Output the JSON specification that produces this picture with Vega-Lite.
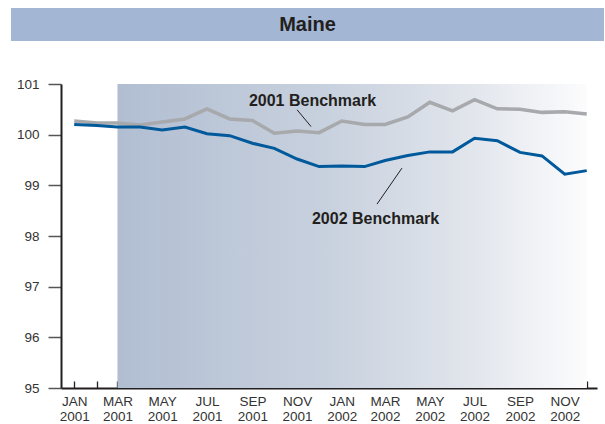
{
  "$schema": "https://vega.github.io/schema/vega-lite/v6.json",
  "padding": {"left": 11, "top": 8, "right": 1, "bottom": 0},
  "spacing": 36,
  "config": {"view": {"stroke": null}, "font": "Liberation Sans"},
  "datasets": {
    "series": [
      {"date": "2001-01-01", "series": "2001 Benchmark", "value": 100.27},
      {"date": "2001-02-01", "series": "2001 Benchmark", "value": 100.23},
      {"date": "2001-03-01", "series": "2001 Benchmark", "value": 100.23},
      {"date": "2001-04-01", "series": "2001 Benchmark", "value": 100.19},
      {"date": "2001-05-01", "series": "2001 Benchmark", "value": 100.25},
      {"date": "2001-06-01", "series": "2001 Benchmark", "value": 100.31},
      {"date": "2001-07-01", "series": "2001 Benchmark", "value": 100.51},
      {"date": "2001-08-01", "series": "2001 Benchmark", "value": 100.31},
      {"date": "2001-09-01", "series": "2001 Benchmark", "value": 100.28},
      {"date": "2001-10-01", "series": "2001 Benchmark", "value": 100.03},
      {"date": "2001-11-01", "series": "2001 Benchmark", "value": 100.07},
      {"date": "2001-12-01", "series": "2001 Benchmark", "value": 100.04},
      {"date": "2002-01-01", "series": "2001 Benchmark", "value": 100.27},
      {"date": "2002-02-01", "series": "2001 Benchmark", "value": 100.20},
      {"date": "2002-03-01", "series": "2001 Benchmark", "value": 100.20},
      {"date": "2002-04-01", "series": "2001 Benchmark", "value": 100.35},
      {"date": "2002-05-01", "series": "2001 Benchmark", "value": 100.64},
      {"date": "2002-06-01", "series": "2001 Benchmark", "value": 100.47},
      {"date": "2002-07-01", "series": "2001 Benchmark", "value": 100.69},
      {"date": "2002-08-01", "series": "2001 Benchmark", "value": 100.51},
      {"date": "2002-09-01", "series": "2001 Benchmark", "value": 100.50},
      {"date": "2002-10-01", "series": "2001 Benchmark", "value": 100.44},
      {"date": "2002-11-01", "series": "2001 Benchmark", "value": 100.45},
      {"date": "2002-12-01", "series": "2001 Benchmark", "value": 100.41},
      {"date": "2001-01-01", "series": "2002 Benchmark", "value": 100.20},
      {"date": "2001-02-01", "series": "2002 Benchmark", "value": 100.18},
      {"date": "2001-03-01", "series": "2002 Benchmark", "value": 100.15},
      {"date": "2001-04-01", "series": "2002 Benchmark", "value": 100.15},
      {"date": "2001-05-01", "series": "2002 Benchmark", "value": 100.09},
      {"date": "2001-06-01", "series": "2002 Benchmark", "value": 100.15},
      {"date": "2001-07-01", "series": "2002 Benchmark", "value": 100.02},
      {"date": "2001-08-01", "series": "2002 Benchmark", "value": 99.98},
      {"date": "2001-09-01", "series": "2002 Benchmark", "value": 99.83},
      {"date": "2001-10-01", "series": "2002 Benchmark", "value": 99.73},
      {"date": "2001-11-01", "series": "2002 Benchmark", "value": 99.52},
      {"date": "2001-12-01", "series": "2002 Benchmark", "value": 99.37},
      {"date": "2002-01-01", "series": "2002 Benchmark", "value": 99.38},
      {"date": "2002-02-01", "series": "2002 Benchmark", "value": 99.37},
      {"date": "2002-03-01", "series": "2002 Benchmark", "value": 99.49},
      {"date": "2002-04-01", "series": "2002 Benchmark", "value": 99.59},
      {"date": "2002-05-01", "series": "2002 Benchmark", "value": 99.66},
      {"date": "2002-06-01", "series": "2002 Benchmark", "value": 99.66},
      {"date": "2002-07-01", "series": "2002 Benchmark", "value": 99.93},
      {"date": "2002-08-01", "series": "2002 Benchmark", "value": 99.88},
      {"date": "2002-09-01", "series": "2002 Benchmark", "value": 99.65},
      {"date": "2002-10-01", "series": "2002 Benchmark", "value": 99.58},
      {"date": "2002-11-01", "series": "2002 Benchmark", "value": 99.22},
      {"date": "2002-12-01", "series": "2002 Benchmark", "value": 99.29}
    ],
    "shade": [{"start": "2001-03-01", "end": "2002-12-01", "lo": 95, "hi": 101}],
    "labels": [
      {"date": "2001-11-22", "value": 100.67, "label": "2001 Benchmark"},
      {"date": "2002-02-16", "value": 98.34, "label": "2002 Benchmark"}
    ],
    "leaders": [
      {"d1": "2001-11-01", "v1": 100.49, "d2": "2001-11-20", "v2": 100.16},
      {"d1": "2002-02-18", "v1": 98.63, "d2": "2002-03-24", "v2": 99.34}
    ],
    "title": [{"title": "Maine"}]
  },
  "vconcat": [
    {
      "width": 593,
      "height": 33,
      "view": {"fill": "#a3b6d3", "stroke": null},
      "data": {"name": "title"},
      "mark": {"type": "text", "fontSize": 20, "fontWeight": "bold", "color": "#231f20", "font": "Liberation Sans"},
      "encoding": {"text": {"field": "title", "type": "nominal"}}
    },
    {
      "width": 593,
      "height": 304,
      "layer": [
        {
          "data": {"name": "shade"},
          "mark": {
            "type": "rect",
            "fill": {
              "gradient": "linear", "x1": 0, "y1": 0, "x2": 1, "y2": 0,
              "stops": [
                {"offset": 0, "color": "#b1bed2"},
                {"offset": 0.45, "color": "#c8d1de"},
                {"offset": 0.75, "color": "#e1e5ec"},
                {"offset": 1, "color": "#fcfcfd"}
              ]
            }
          },
          "encoding": {
            "x": {"field": "start", "type": "temporal"},
            "x2": {"field": "end"},
            "y": {"field": "lo", "type": "quantitative"},
            "y2": {"field": "hi"}
          }
        },
        {
          "data": {"name": "series"},
          "transform": [{"filter": "datum.series == '2001 Benchmark'"}],
          "mark": {"type": "line", "color": "#a7a9ac", "strokeWidth": 3.5},
          "encoding": {
            "x": {"field": "date", "type": "temporal"},
            "y": {"field": "value", "type": "quantitative"}
          }
        },
        {
          "data": {"name": "series"},
          "transform": [{"filter": "datum.series == '2002 Benchmark'"}],
          "mark": {"type": "line", "color": "#00599b", "strokeWidth": 3},
          "encoding": {
            "x": {"field": "date", "type": "temporal"},
            "y": {"field": "value", "type": "quantitative"}
          }
        },
        {
          "data": {"name": "leaders"},
          "mark": {"type": "rule", "color": "#231f20", "strokeWidth": 1},
          "encoding": {
            "x": {"field": "d1", "type": "temporal"},
            "x2": {"field": "d2"},
            "y": {"field": "v1", "type": "quantitative"},
            "y2": {"field": "v2"}
          }
        },
        {
          "data": {"name": "labels"},
          "mark": {"type": "text", "fontSize": 16, "fontWeight": "bold", "color": "#231f20", "font": "Liberation Sans"},
          "encoding": {
            "x": {"field": "date", "type": "temporal"},
            "y": {"field": "value", "type": "quantitative"},
            "text": {"field": "label", "type": "nominal"}
          }
        }
      ],
      "resolve": {"scale": {"x": "shared", "y": "shared"}},
      "encoding": {
        "x": {
          "type": "temporal",
          "scale": {
            "type": "utc",
            "domain": [{"year": 2000, "month": 12, "date": 14, "utc": true}, {"year": 2002, "month": 12, "date": 15, "utc": true}],
            "range": [50, 586],
            "nice": false
          },
          "axis": {
            "title": null,
            "grid": false,
            "tickCount": {"interval": "month", "step": 1},
            "tickSize": -7,
            "tickWidth": 1.3,
            "tickColor": "#231f20",
            "domainWidth": 2,
            "domainColor": "#231f20",
            "labelExpr": "utcmonth(datum.value) % 2 == 0 ? [upper(utcFormat(datum.value, '%b')), utcFormat(datum.value, '%Y')] : ''",
            "labelFont": "Liberation Sans",
            "labelFontSize": 13.5,
            "labelLineHeight": 15,
            "labelColor": "#333333",
            "labelPadding": 13,
            "labelOverlap": false,
            "labelFlush": false
          }
        },
        "y": {
          "type": "quantitative",
          "scale": {"domain": [95, 101], "nice": false, "zero": false},
          "axis": {
            "title": null,
            "grid": false,
            "values": [95, 96, 97, 98, 99, 100, 101],
            "offset": -50,
            "tickSize": 13,
            "tickWidth": 1.5,
            "tickColor": "#555555",
            "domainWidth": 2,
            "domainColor": "#231f20",
            "labelFont": "Liberation Sans",
            "labelFontSize": 13.5,
            "labelColor": "#333333",
            "labelPadding": 9
          }
        }
      }
    }
  ]
}
